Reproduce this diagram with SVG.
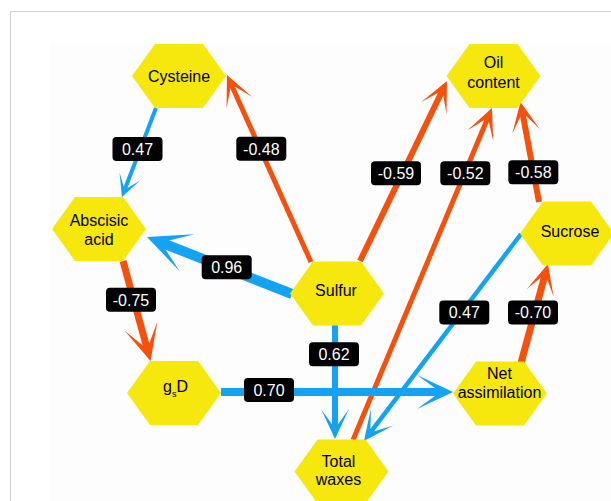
<svg xmlns="http://www.w3.org/2000/svg" xmlns:xlink="http://www.w3.org/1999/xlink" width="611" height="501" viewBox="0 0 611 501">
<style>
.hex{fill:#F6E70C;}
.nt{font-family:"Liberation Sans",Arial,Helvetica,sans-serif;font-size:16px;fill:#000;text-anchor:middle;}
.b{stroke:#13A3F2;fill:none;stroke-linecap:butt;}
.o{stroke:#F5500C;fill:none;stroke-linecap:butt;}
.lb{fill:#000;}
.lt{font-family:"Liberation Sans",Arial,Helvetica,sans-serif;font-size:16px;fill:#fff;text-anchor:middle;}
</style>
<defs>
<path id="hexshape" d="M-47,0 L-24,-32 L24,-32 L47,0 L24,32 L-24,32 Z"/>
<marker id="abS" markerUnits="userSpaceOnUse" orient="auto" refX="0" refY="0" overflow="visible"><path d="M7.7,0 L-14.3,-11 L0,0 L-14.3,11 Z" fill="#13A3F2"/></marker>
<marker id="abM" markerUnits="userSpaceOnUse" orient="auto" refX="0" refY="0" overflow="visible"><path d="M10.5,0 L-19.5,-14 L0,0 L-19.5,14 Z" fill="#13A3F2"/></marker>
<marker id="abL" markerUnits="userSpaceOnUse" orient="auto" refX="0" refY="0" overflow="visible"><path d="M12.6,0 L-23.4,-17 L0,0 L-23.4,17 Z" fill="#13A3F2"/></marker>
<marker id="abXL" markerUnits="userSpaceOnUse" orient="auto" refX="0" refY="0" overflow="visible"><path d="M15,0 L-28,-20 L0,0 L-28,20 Z" fill="#13A3F2"/></marker>
<marker id="aoM" markerUnits="userSpaceOnUse" orient="auto" refX="0" refY="0" overflow="visible"><path d="M10.5,0 L-19.5,-14 L0,0 L-19.5,14 Z" fill="#F5500C"/></marker>
<marker id="aoL" markerUnits="userSpaceOnUse" orient="auto" refX="0" refY="0" overflow="visible"><path d="M12.6,0 L-23.4,-17 L0,0 L-23.4,17 Z" fill="#F5500C"/></marker>
</defs>
<rect x="0" y="0" width="611" height="501" fill="#fff"/>
<rect x="10.5" y="11.5" width="700" height="600" fill="#fff" stroke="#d2d2d2"/>
<rect x="50" y="43" width="561" height="458" fill="#fdfdfd"/>

<g id="connectors">
<line class="b" x1="156" y1="108" x2="124.7" y2="189.8" stroke-width="4" marker-end="url(#abS)"/>
<line class="o" x1="311" y1="262" x2="231.3" y2="84.6" stroke-width="5" marker-end="url(#aoM)"/>
<line class="b" x1="292" y1="294" x2="161" y2="242.5" stroke-width="10" marker-end="url(#abXL)"/>
<line class="o" x1="360" y1="261" x2="442.4" y2="90.5" stroke-width="6" marker-end="url(#aoM)"/>
<line class="o" x1="353" y1="440" x2="487.9" y2="117.7" stroke-width="5" marker-end="url(#aoM)"/>
<line class="o" x1="539" y1="202" x2="522.4" y2="112.3" stroke-width="6" marker-end="url(#aoM)"/>
<line class="b" x1="521" y1="234" x2="370.3" y2="432.6" stroke-width="4.5" marker-end="url(#abM)"/>
<line class="o" x1="521" y1="363" x2="545.2" y2="274.1" stroke-width="7" marker-end="url(#aoM)"/>
<line class="b" x1="335" y1="325" x2="335" y2="428.5" stroke-width="6" marker-end="url(#abM)"/>
<line class="b" x1="221" y1="392" x2="440.4" y2="392" stroke-width="8" marker-end="url(#abL)"/>
<line class="o" x1="123" y1="261" x2="147.2" y2="348.9" stroke-width="7" marker-end="url(#aoL)"/>

<rect class="lb" x="112.5" y="137" width="50" height="24" rx="4"/><text class="lt" x="137.5" y="154.8">0.47</text>
<rect class="lb" x="236.3" y="136.7" width="50" height="24" rx="4"/><text class="lt" x="261.3" y="154.5">-0.48</text>
<rect class="lb" x="201.7" y="255.2" width="50" height="24" rx="4"/><text class="lt" x="226.7" y="273">0.96</text>
<rect class="lb" x="371" y="161.3" width="50" height="24" rx="4"/><text class="lt" x="396" y="179.1">-0.59</text>
<rect class="lb" x="440.3" y="161.3" width="50" height="24" rx="4"/><text class="lt" x="465.3" y="179.1">-0.52</text>
<rect class="lb" x="508.3" y="160.3" width="50" height="24" rx="4"/><text class="lt" x="533.3" y="178.1">-0.58</text>
<rect class="lb" x="439.3" y="300.5" width="50" height="24" rx="4"/><text class="lt" x="464.3" y="318.3">0.47</text>
<rect class="lb" x="508" y="300.5" width="50" height="24" rx="4"/><text class="lt" x="533" y="318.3">-0.70</text>
<rect class="lb" x="309" y="342.3" width="50" height="24" rx="4"/><text class="lt" x="334" y="360.1">0.62</text>
<rect class="lb" x="244" y="378" width="50" height="24" rx="4"/><text class="lt" x="269" y="395.8">0.70</text>
<rect class="lb" x="106" y="287.7" width="50" height="24" rx="4"/><text class="lt" x="131" y="305.5">-0.75</text>
</g>

<g id="cysteine"><use xlink:href="#hexshape" class="hex" transform="translate(179,76)"/><text class="nt" x="179" y="82">Cysteine</text></g>
<g id="oil-content"><use xlink:href="#hexshape" class="hex" transform="translate(493.5,76)"/><text class="nt" x="493.5" y="68.3">Oil</text><text class="nt" x="493.5" y="87.7">content</text></g>
<g id="abscisic-acid"><use xlink:href="#hexshape" class="hex" transform="translate(99,229)"/><text class="nt" x="99" y="226">Abscisic</text><text class="nt" x="99" y="245">acid</text></g>
<g id="sulfur"><use xlink:href="#hexshape" class="hex" transform="translate(337,293.5)"/><text class="nt" x="336" y="296">Sulfur</text></g>
<g id="sucrose"><use xlink:href="#hexshape" class="hex" transform="translate(567,233.5)"/><text class="nt" x="570" y="236.7">Sucrose</text></g>
<g id="gsd"><use xlink:href="#hexshape" class="hex" transform="translate(174,393)"/><text class="nt" x="163" y="391.7" text-anchor="start" style="text-anchor:start">g<tspan font-size="9" dy="5">s</tspan><tspan font-size="16" dy="-5">D</tspan></text></g>
<g id="total-waxes"><use xlink:href="#hexshape" class="hex" transform="translate(341.5,471.5)"/><text class="nt" x="338.5" y="466.7">Total</text><text class="nt" x="338.5" y="485">waxes</text></g>
<g id="net-assimilation"><use xlink:href="#hexshape" class="hex" transform="translate(500,393.5)"/><text class="nt" x="499.5" y="379">Net</text><text class="nt" x="499.5" y="398.3">assimilation</text></g>
</svg>
